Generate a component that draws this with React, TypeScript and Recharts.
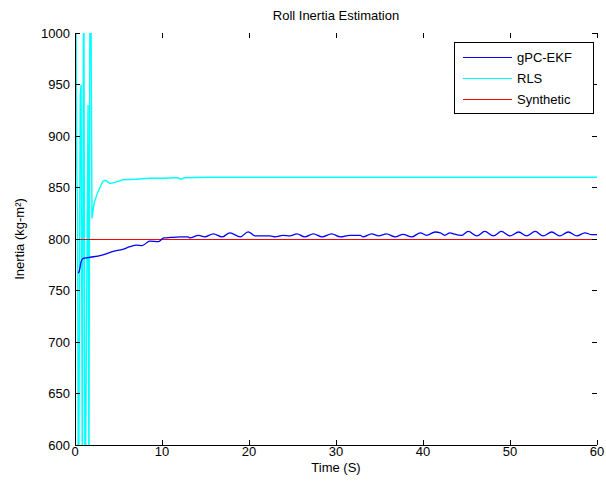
import React from "react";
import { Legend, Line, LineChart, XAxis, YAxis } from "recharts";

// time (s) and inertia estimates
const rlsTime = [0, 0.2, 0.3, 0.4, 0.6, 0.7, 0.85, 1.0, 1.15, 1.5, 1.6, 1.75, 1.95, 2.2, 2.6, 3.2, 3.5, 4.0, 4.6, 5.5, 7.0, 8.5, 10.0, 11.8, 12.2, 12.6, 15, 20, 30, 40, 50, 60];
const rlsValue = [1200, 870, 820, 480, 940, 950, 560, 1150, 500, 930, 550, 1200, 820, 835, 845, 856, 857, 854, 855, 857.5, 858, 859, 859, 859.5, 858, 859.5, 860, 860, 860, 860, 860, 860];

const ekfTime = [0.35, 0.5, 0.7, 0.9, 1.5, 3.0, 4.4, 5.5, 6.3, 7.1, 7.7, 8.6, 9.6, 10.2, 11, 12.1, 13.0, 13.2, 14.2, 14.9, 15.9, 16.9, 17.8, 19.0, 19.9, 20.7, 22.4, 23.0, 23.9, 24.7, 25.5, 26.4, 27.4, 28.4, 29.5, 30.5, 31.6, 32.8, 33.1, 34.1, 34.9, 35.8, 36.8, 37.7, 38.7, 39.7, 40.4, 41.4, 42.0, 42.5, 43.1, 43.5, 44.4, 45.2, 46.2, 47.1, 48.1, 49.0, 50.0, 51.0, 51.9, 52.9, 53.8, 54.8, 55.7, 56.7, 57.7, 58.6, 59.4, 60];
const ekfValue = [767, 769, 778, 781, 782, 784, 788, 790, 792.5, 794, 793.5, 798, 797.5, 801, 801.5, 802, 802, 801, 803.5, 802, 805, 802, 806, 802, 807, 803, 803, 802, 803.5, 803, 805, 802, 805, 802, 805, 802, 803.6, 803.6, 802, 805, 803, 805, 802, 804.5, 802, 806, 803.6, 806.8, 806, 803.6, 806, 805, 803.5, 807.4, 803, 807.4, 803, 807.4, 803, 806.8, 803, 807.4, 803, 806.8, 803, 806.8, 803, 806, 804.2, 804.2];

const synTime = [0, 60];
const synValue = [800, 800];

const xTicks = [0, 10, 20, 30, 40, 50, 60];
const yTicks = [600, 650, 700, 750, 800, 850, 900, 950, 1000];

const seriesNames = ["gPC-EKF", "RLS", "Synthetic"];
const seriesColors = ["#0000ff", "#00ffff", "#ff0000"];

const rlsData = rlsTime.map((t, i) => ({ t, v: rlsValue[i] }));
const ekfData = ekfTime.map((t, i) => ({ t, v: ekfValue[i] }));
const synData = synTime.map((t, i) => ({ t, v: synValue[i] }));

const FONT = '"Liberation Sans", Arial, Helvetica, sans-serif';
const PLOT_TOP = 33;
const PLOT_BOTTOM = 445;
const PLOT_LEFT = 75;
const PLOT_RIGHT = 597;

const css = `
.recharts-cartesian-axis-line, .tick-mark, .syn-line path { shape-rendering: crispEdges; }
`;

function XTick(props: any) {
  const { x, payload } = props;
  return (
    <g>
      <line className="tick-mark" x1={x} x2={x} y1={PLOT_BOTTOM} y2={PLOT_BOTTOM - 5} stroke="#000" />
      <line className="tick-mark" x1={x} x2={x} y1={PLOT_TOP} y2={PLOT_TOP + 5} stroke="#000" />
      <text x={x} y={PLOT_BOTTOM + 1.5} dy="0.71em" textAnchor="middle" fontSize={13} fontFamily={FONT} fill="#000">
        {payload.value}
      </text>
    </g>
  );
}

function YTick(props: any) {
  const { y, payload } = props;
  return (
    <g>
      <line className="tick-mark" x1={PLOT_LEFT} x2={PLOT_LEFT + 5} y1={y} y2={y} stroke="#000" />
      <line className="tick-mark" x1={PLOT_RIGHT} x2={PLOT_RIGHT - 5} y1={y} y2={y} stroke="#000" />
      <text x={PLOT_LEFT - 5} y={y} dy="0.35em" textAnchor="end" fontSize={13} fontFamily={FONT} fill="#000">
        {payload.value}
      </text>
    </g>
  );
}

function LegendBox() {
  return (
    <div
      style={{
        width: 140,
        height: 72,
        boxSizing: "border-box",
        border: "1px solid #000",
        background: "#fff",
        paddingTop: 4,
        fontFamily: FONT,
        fontSize: 13,
        color: "#000",
      }}
    >
      {seriesNames.map((name, i) => (
        <div key={name} style={{ display: "flex", alignItems: "center", height: 21 }}>
          <svg width={58} height={21} style={{ display: "block", flex: "none" }}>
            <line x1={8} x2={57} y1={10.5} y2={10.5} stroke={seriesColors[i]} strokeWidth={1.2} shapeRendering="crispEdges" />
          </svg>
          <span style={{ marginLeft: 4, lineHeight: "21px" }}>{name}</span>
        </div>
      ))}
    </div>
  );
}

export default function App() {
  return (
    <div style={{ position: "absolute", left: 0, top: 0, width: 606, height: 489, background: "#fff" }}>
      <style>{css}</style>
      <div
        style={{
          position: "absolute",
          left: PLOT_LEFT,
          width: PLOT_RIGHT - PLOT_LEFT,
          top: 8,
          textAlign: "center",
          fontFamily: FONT,
          fontSize: 13,
          color: "#000",
        }}
      >
        Roll Inertia Estimation
      </div>
      <LineChart width={606} height={489} margin={{ top: PLOT_TOP, right: 606 - PLOT_RIGHT, bottom: 0, left: 0 }}>
        <XAxis
          xAxisId="b"
          dataKey="t"
          type="number"
          domain={[0, 60]}
          ticks={xTicks}
          allowDataOverflow
          height={489 - PLOT_BOTTOM}
          tickSize={0}
          tickMargin={0}
          tickLine={false}
          tick={<XTick />}
          axisLine={{ stroke: "#000" }}
          label={{ value: "Time (S)", position: "insideBottom", offset: 17, fontSize: 13, fontFamily: FONT, fill: "#000" }}
        />
        <XAxis xAxisId="top" dataKey="t" type="number" domain={[0, 60]} orientation="top" height={0} tick={false} tickLine={false} axisLine={{ stroke: "#000" }} allowDataOverflow />
        <YAxis
          yAxisId="l"
          type="number"
          domain={[600, 1000]}
          ticks={yTicks}
          allowDataOverflow
          width={PLOT_LEFT}
          tickSize={0}
          tickMargin={0}
          tickLine={false}
          tick={<YTick />}
          axisLine={{ stroke: "#000" }}
          label={{ value: "Inertia (kg-m²)", angle: -90, position: "insideLeft", offset: 19, style: { textAnchor: "middle" }, fontSize: 13, fontFamily: FONT, fill: "#000" }}
        />
        <YAxis yAxisId="r" type="number" domain={[600, 1000]} orientation="right" width={0} tick={false} tickLine={false} axisLine={{ stroke: "#000" }} allowDataOverflow />
        <Legend layout="vertical" align="center" verticalAlign="middle" content={<LegendBox />} wrapperStyle={{ position: "absolute", left: 454, top: 42, width: 140, height: 72 }} />
        <Line data={rlsData} xAxisId="b" yAxisId="l" dataKey="v" name="RLS" type="linear" stroke="#00ffff" strokeWidth={1.4} dot={false} isAnimationActive={false} />
        <Line className="syn-line" data={synData} xAxisId="top" yAxisId="r" dataKey="v" name="Synthetic" type="linear" stroke="#ff0000" strokeWidth={1} dot={false} isAnimationActive={false} />
        <Line data={ekfData} xAxisId="b" yAxisId="l" dataKey="v" name="gPC-EKF" type="monotone" stroke="#0000ff" strokeWidth={1.3} dot={false} isAnimationActive={false} />
      </LineChart>
    </div>
  );
}
